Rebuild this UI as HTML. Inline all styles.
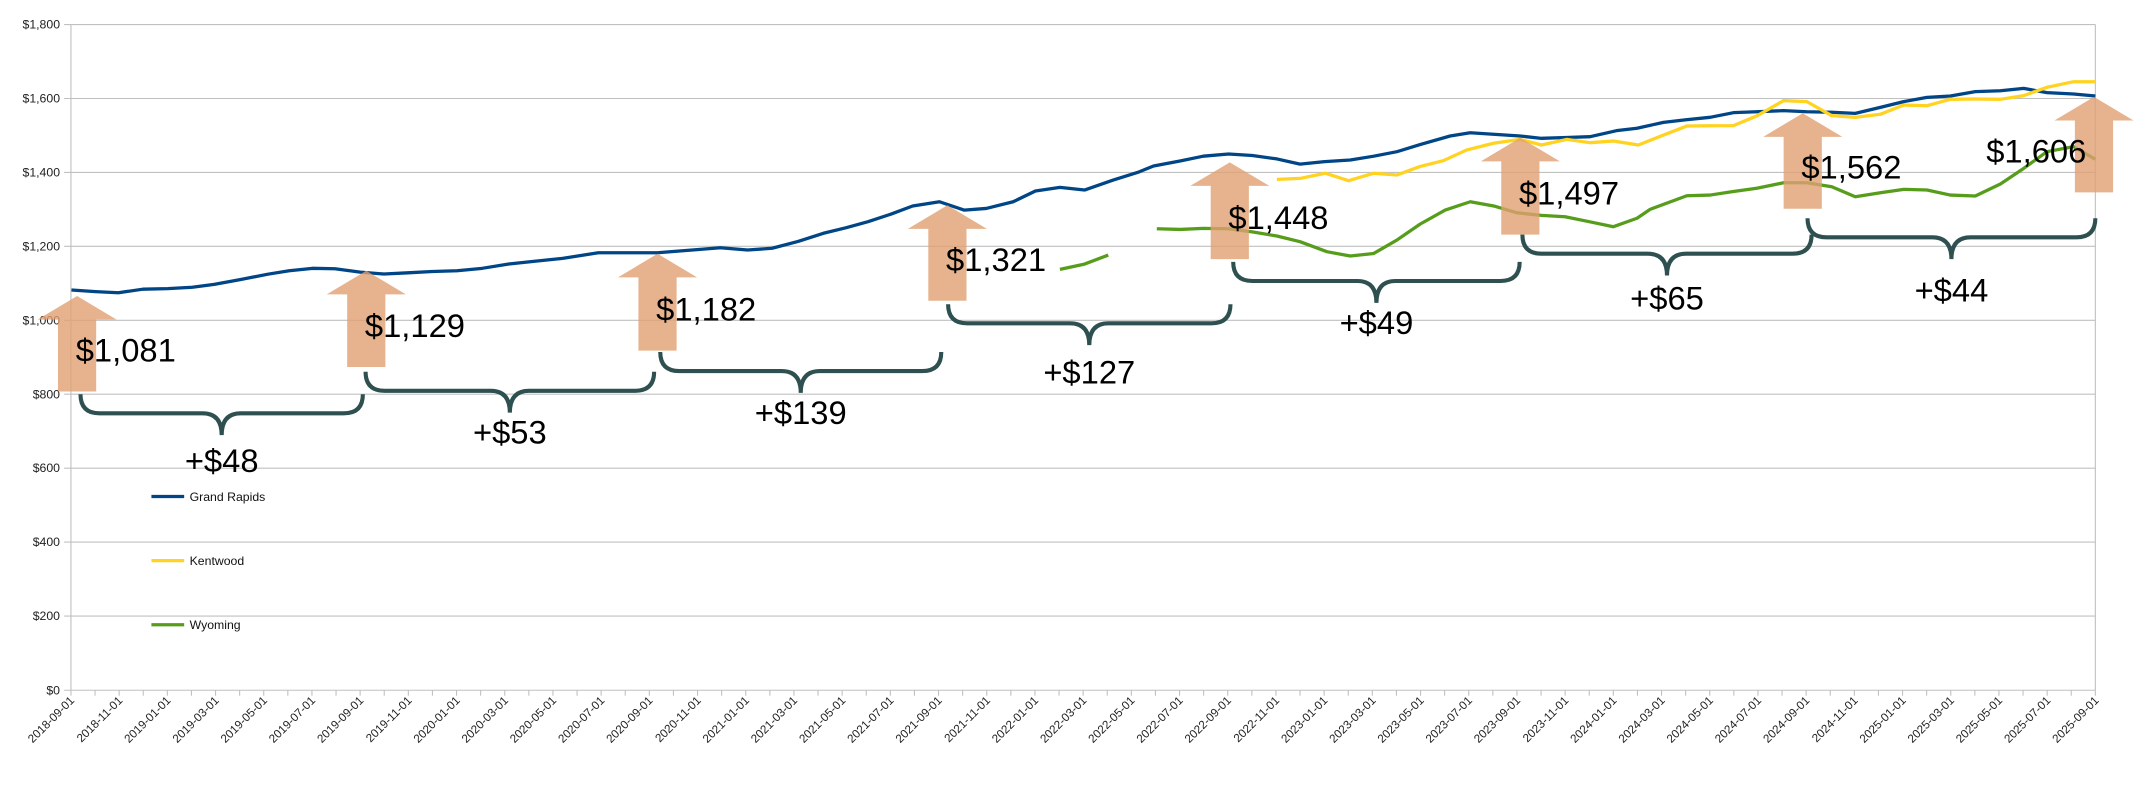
<!DOCTYPE html>
<html><head><meta charset="utf-8"><style>
html,body{margin:0;padding:0;background:#fff;}
svg{display:block;}
text{font-family:"Liberation Sans",sans-serif;}
</style></head><body>
<svg width="2139" height="792" viewBox="0 0 1568 580.6" preserveAspectRatio="none" xmlns="http://www.w3.org/2000/svg">
<rect width="1568" height="581" fill="#fff"/>
<g stroke="#c0c0c0" stroke-width="0.8">
<line x1="47" y1="18" x2="1536" y2="18"/>
<line x1="47" y1="72.2" x2="1536" y2="72.2"/>
<line x1="47" y1="126.4" x2="1536" y2="126.4"/>
<line x1="47" y1="180.6" x2="1536" y2="180.6"/>
<line x1="47" y1="234.8" x2="1536" y2="234.8"/>
<line x1="47" y1="289" x2="1536" y2="289"/>
<line x1="47" y1="343.2" x2="1536" y2="343.2"/>
<line x1="47" y1="397.4" x2="1536" y2="397.4"/>
<line x1="47" y1="451.6" x2="1536" y2="451.6"/>
<line x1="47" y1="506" x2="1536" y2="506"/>
<line x1="52" y1="18" x2="52" y2="506"/>
<line x1="1536" y1="18" x2="1536" y2="506"/>
</g>
<g font-size="9" fill="#222" text-anchor="end">
<text x="44" y="21">$1,800</text><text x="44" y="75.2">$1,600</text><text x="44" y="129.4">$1,400</text><text x="44" y="183.6">$1,200</text><text x="44" y="237.8">$1,000</text><text x="44" y="292">$800</text><text x="44" y="346.2">$600</text><text x="44" y="400.4">$400</text><text x="44" y="454.6">$200</text><text x="44" y="509">$0</text>
</g>
<g id="ticks" stroke="#c0c0c0" stroke-width="0.8"></g>
<g id="xl" font-size="8.6" fill="#222" text-anchor="end"></g>
<g fill="none" stroke-width="2.4" stroke-linejoin="round">
<polyline stroke="#004586" points="52.4,212.6 70,213.8 86.7,214.6 104.7,212 123,211.6 141,210.6 157,208.5 176,205 196.4,201 212,198.5 229,196.7 245.5,197 264,199.5 281.5,200.9 299,200 317,199 335,198.5 353.5,196.7 373,193.5 392,191.5 412.4,189.4 438.6,185.3 458,185.3 482,185.3 492.3,184.5 511,183 528,181.6 548,183.3 566,182 585,177 603.6,171 620,167 636.3,162.5 653,157 669,151 688.7,147.9 706.7,154 723,152.8 742.7,147.9 759,140 777,137.4 795,139.3 816,132 835,126 845.6,121.7 865,118 882,114.5 900.6,112.9 918,114 936,116.5 953,120.3 971,118.5 989.8,117.3 1007,114.5 1024,111.2 1041,106 1063,99.7 1077.7,97.3 1096,98.5 1114.3,99.7 1130,101.4 1148,100.8 1165.6,100.2 1185,95.8 1200,94 1219.4,89.7 1236,87.8 1253.6,86 1270.7,82.6 1290,81.8 1307.4,81.1 1324.5,81.9 1342.8,82.3 1360,83.1 1378.4,78.7 1395.5,74.5 1412.6,71.4 1429.7,70.4 1448,67.2 1466.4,66.5 1483.5,64.8 1500.5,67.9 1520,68.9 1536,70.4"/>
<polyline stroke="#ffd320" points="936,131.5 953,130.8 971.5,127 988.6,132.5 1007,127 1024,128.3 1041,122 1058,117.8 1075,110 1094.8,105 1114.3,102.2 1130,106.3 1148.5,102.2 1165.6,104.6 1182.7,103.4 1201,106.3 1219.4,99 1236.5,92.4 1253,92.2 1270.7,92.1 1287.8,85 1307.4,73.8 1324.5,74.5 1342.8,84.8 1360,86 1378.4,83.8 1395.5,77 1412.6,77.5 1429.7,72.8 1448,72.6 1466.4,72.8 1483.5,70.1 1500.5,64 1520,59.9 1536,59.9"/>
<polyline stroke="#579d1c" points="777,197.5 795,193.6 812.4,187"/>
<polyline stroke="#579d1c" points="848,167.7 865,168.2 882,167.4 900.6,167.7 918,170 936,173 953,177.2 972.7,184.5 989.8,187.7 1007,185.8 1024,176 1041,164.3 1059.4,154 1077.8,147.9 1095,151 1112,156 1130,157.9 1147.3,158.9 1165,162.5 1182.7,166.2 1200,160 1209.6,153.5 1236.5,143.5 1253.6,143 1270,140.5 1287.8,138 1307.4,134 1324.5,134 1342.8,136.9 1360,144.2 1378.4,141.3 1395.5,138.8 1412.6,139.3 1429.7,143 1448,143.7 1466.4,134.9 1483.5,123.4 1500.5,111.2 1520,107.5 1536,116.8"/>
</g>
<g font-size="9" fill="#111">
<line x1="111" y1="364" x2="135" y2="364" stroke="#004586" stroke-width="2.4"/><text x="139" y="367.2">Grand Rapids</text>
<line x1="111" y1="411" x2="135" y2="411" stroke="#ffd320" stroke-width="2.4"/><text x="139" y="414.2">Kentwood</text>
<line x1="111" y1="458" x2="135" y2="458" stroke="#579d1c" stroke-width="2.4"/><text x="139" y="461.2">Wyoming</text>
</g>
<g id="arrows" fill="#e0a072" fill-opacity="0.8"></g>
<g id="brackets" fill="none" stroke="#2f5050" stroke-width="3" stroke-linecap="butt"></g>
<g id="labels" font-size="24" fill="#000"></g>
<script>
var NS="http://www.w3.org/2000/svg";
function el(t,a,p,txt){var e=document.createElementNS(NS,t);for(var k in a)e.setAttribute(k,a[k]);if(txt)e.textContent=txt;document.getElementById(p).appendChild(e);}
var x0=52,dx=1484/84;
for(var i=0;i<=84;i++){var x=x0+i*dx;el("line",{x1:x,y1:506,x2:x,y2:510},"ticks");}
var y=2018,m=9;
for(var i=0;i<=42;i++){var x=x0+i*2*dx;var s=y+"-"+(m<10?"0":"")+m+"-01";
el("text",{x:x+3,y:514,transform:"rotate(-45 "+(x+3)+" 514)"},"xl",s);
m+=2;if(m>12){m-=12;y++;}}
var A=[[56.5,217,287,"$1,081",55.5],[268.5,198.5,269,"$1,129",267.5],[482,186,257,"$1,182",481],[694.5,150.5,220.5,"$1,321",693.5],[901.5,119,190,"$1,448",900.5],[1114.5,101,172,"$1,497",1113.5],[1321.5,83,153,"$1,562",1320.5],[1535,71,141,"$1,606",1456]];
A.forEach(function(a){var c=a[0],t=a[1],b=a[2],h=t+17.3;
el("polygon",{points:[c,t,c+29,h,c+14,h,c+14,b,c-14,b,c-14,h,c-29,h].join(" ")},"arrows");
el("text",{x:a[4],y:b-22},"labels",a[3]);});
var B=[[59,266,289,"+$48",346],[268,479.5,272.5,"+$53",325],[484,690,258,"+$139",311],[695,902,223,"+$127",281],[904,1114,192,"+$49",245],[1116,1328,172,"+$65",227],[1325,1536,160,"+$44",221]];
B.forEach(function(b){var x1=b[0],x2=b[1],t=b[2],mid=(x1+x2)/2,h=t+14,tp=t+30;
var d="M"+x1+","+t+" Q"+x1+","+h+" "+(x1+14)+","+h+" L"+(mid-14)+","+h+" Q"+mid+","+h+" "+mid+","+tp+" Q"+mid+","+h+" "+(mid+14)+","+h+" L"+(x2-14)+","+h+" Q"+x2+","+h+" "+x2+","+t;
el("path",{d:d},"brackets");
el("text",{x:mid,y:b[4],"text-anchor":"middle"},"labels",b[3]);});
</script>
</svg>
</body></html>
